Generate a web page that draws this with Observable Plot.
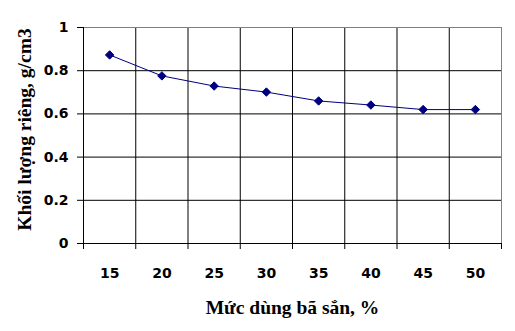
<!DOCTYPE html>
<html>
<head>
<meta charset="utf-8">
<script src="https://cdn.jsdelivr.net/npm/d3@7"></script>
<script src="https://cdn.jsdelivr.net/npm/@observablehq/plot@0.6"></script>
<style>
  html, body { margin: 0; padding: 0; background: #fff; }
</style>
</head>
<body>
<div id="chart"></div>
<script>
const usage = [15, 20, 25, 30, 35, 40, 45, 50];
const density = [0.873, 0.776, 0.729, 0.701, 0.66, 0.641, 0.62, 0.62];
const yTicks = [0, 0.2, 0.4, 0.6, 0.8, 1];
const xTitle = "Mức dùng bã sắn, %";
const yTitle = "Khối lượng riêng, g/cm3";

const data = usage.map((u, i) => ({u, d: density[i]}));
const step = usage[1] - usage[0];
const bounds = [usage[0] - step / 2, ...usage.map(u => u + step / 2)];
const innerBounds = bounds.slice(1, -1);
const innerY = yTicks.slice(1, -1);

const tickFont = {fontFamily: "DejaVu Sans", fontSize: 14, fontWeight: "bold"};
const titleFont = {fontFamily: "Liberation Serif", fontSize: 19.5, fontWeight: "bold"};

const chart = Plot.plot({
  width: 515,
  height: 331,
  marginLeft: 83,
  marginRight: 14,
  marginTop: 27,
  marginBottom: 88,
  style: {background: "#fff", color: "#000"},
  x: {type: "linear", domain: [bounds[0], bounds[bounds.length - 1]]},
  y: {domain: [0, 1]},
  marks: [
    Plot.ruleY(innerY, {stroke: "#000", strokeWidth: 1}),
    Plot.ruleX(innerBounds, {stroke: "#000", strokeWidth: 1}),
    Plot.ruleY([yTicks[yTicks.length - 1]], {stroke: "#808080", strokeWidth: 1}),
    Plot.ruleX([bounds[bounds.length - 1]], {stroke: "#808080", strokeWidth: 1}),
    Plot.ruleY([0], {stroke: "#000", strokeWidth: 1}),
    Plot.ruleX([bounds[0]], {stroke: "#000", strokeWidth: 1}),
    Plot.axisY({ticks: yTicks, tickSize: 6, tickFormat: d => String(d), label: null, stroke: "#000", tickPadding: 9, ...tickFont, fill: "#000"}),
    Plot.axisX({ticks: bounds, tickSize: 6, tickFormat: () => "", label: null, stroke: "#000"}),
    Plot.axisX({ticks: usage, tickSize: 0, tickPadding: 25, tickFormat: d => String(d), label: null, ...tickFont, fill: "#000"}),
    Plot.line(data, {x: "u", y: "d", stroke: "#000080", strokeWidth: 1}),
    Plot.dot(data, {x: "u", y: "d", symbol: "diamond2", r: 3.8, fill: "#000080", stroke: "#000080", strokeWidth: 1}),
    Plot.text([xTitle], {frameAnchor: "bottom", dy: 64, text: d => d, textAnchor: "middle", lineAnchor: "middle", ...titleFont, fill: "#000"}),
    Plot.text([yTitle], {frameAnchor: "left", dx: -59, dy: -6, rotate: -90, text: d => d, textAnchor: "middle", lineAnchor: "middle", ...titleFont, fill: "#000"})
  ]
});
document.getElementById("chart").appendChild(chart);
</script>
</body>
</html>
